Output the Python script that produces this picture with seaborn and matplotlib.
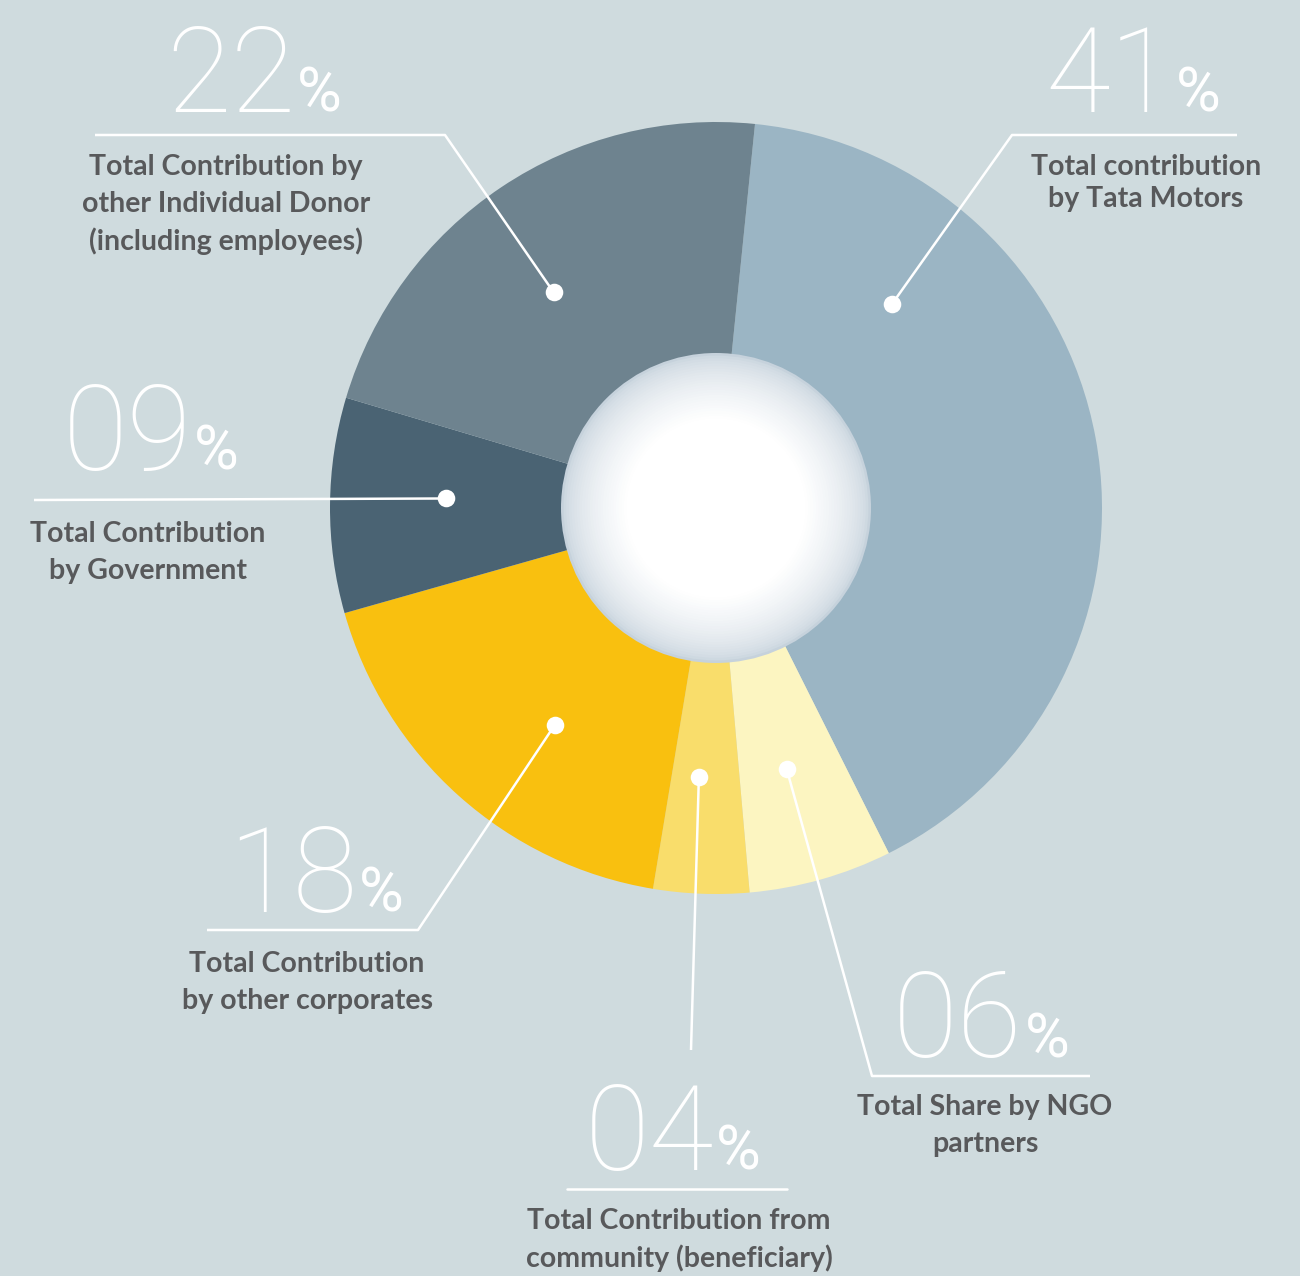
import numpy as np
import matplotlib
matplotlib.use("Agg")
from matplotlib import pyplot as plt
from matplotlib.patches import Circle
import seaborn as sns

# shares, clockwise from the top
categories = ["Tata Motors", "NGO partners", "Community", "Other corporates",
              "Government", "Individual donors"]
shares = [41, 6, 4, 18, 9, 22]
pct_text = ["41", "06", "04", "18", "09", "22"]
labels = ["Total contribution\nby Tata Motors",
          "Total Share by NGO\npartners",
          "Total Contribution from\ncommunity (beneficiary)",
          "Total Contribution\nby other corporates",
          "Total Contribution\nby Government",
          "Total Contribution by\nother Individual Donor\n(including employees)"]
colors = ["#9bb5c4", "#fcf5c1", "#f9dd6b", "#f9c00f", "#4a6373", "#6e838f"]

W, H = 1300, 1276
BG = "#cfdbde"
TXT = "#58595b"

sns.set_theme(style="white")
plt.rcParams['font.family'] = ['Lato', 'DejaVu Sans']

fig = plt.figure(figsize=(W / 100, H / 100), dpi=100, facecolor=BG)
ax = fig.add_axes([0, 0, 1, 1])
ax.set_facecolor(BG)


def Y(y):
    return H - y


cx, cy, R = 716, Y(508), 386
wedges, _ = ax.pie(shares, colors=colors, startangle=84.2, counterclock=False,
                   radius=R, center=(cx, cy), wedgeprops=dict(linewidth=0))
ax.set_xlim(0, W)
ax.set_ylim(0, H)
ax.set_aspect("auto")
ax.axis("off")

# white hole with soft bluish rim
rin = 155
edge = np.array(matplotlib.colors.to_rgb("#c6d2dc"))
for r in np.linspace(rin, 1, 60):
    t = min(1.0, (rin - r) / 65.0) ** 0.6
    ax.add_patch(Circle((cx, cy), r, color=edge + (1 - edge) * t, lw=0, zorder=3))

# label layout: where along the wedge the dot sits, leader path after the dot,
# number baseline position, label centre + first line y, line spacing
layout = [
    dict(frac=0.763, path=[(1012, 135), (1237, 135)], num=(1045, 112), lab=(1146, 167), sp=32),
    dict(frac=0.47, path=[(872, 1076), (1090, 1076)], num=(893, 1057), lab=(985, 1107), sp=37),
    dict(frac=0.40, path=[(691, 1050)], rule=[(567, 1189), (787, 1189)],
         num=(585, 1170), lab=(679, 1221), sp=37),
    dict(frac=0.58, path=[(418, 930), (207, 930)], num=(228, 912), lab=(307, 964), sp=37),
    dict(frac=0.45, path=[(34, 500)], num=(63, 470), lab=(148, 534), sp=37),
    dict(frac=0.54, path=[(445, 135), (95, 135)], num=(166, 112), lab=(226, 167), sp=37),
]

fig.canvas.draw()
renderer = fig.canvas.get_renderer()
inv = ax.transData.inverted()

for w, lay, num, lab in zip(wedges, layout, pct_text, labels):
    th = np.deg2rad(w.theta1 + (w.theta2 - w.theta1) * lay["frac"])
    rd = 270
    dx, dy = cx + rd * np.cos(th), cy + rd * np.sin(th)
    pts = [(dx, dy)] + [(x, Y(y)) for x, y in lay["path"]]
    xs, ys = zip(*pts)
    ax.plot(xs, ys, color="white", lw=1.8, zorder=5, solid_capstyle="butt")
    ax.scatter([dx], [dy], s=160, color="white", zorder=6, linewidths=0)
    if "rule" in lay:
        (x0, y0), (x1, y1) = lay["rule"]
        ax.plot([x0, x1], [Y(y0), Y(y1)], color="white", lw=1.8, zorder=5)

    nx, ny = lay["num"]
    t = ax.text(nx, Y(ny), num, color="white", fontsize=85, fontweight="light",
                family=["Roboto", "DejaVu Sans"], ha="left", va="baseline", zorder=7)
    bb = t.get_window_extent(renderer)
    px = inv.transform((bb.x1, bb.y0))[0]
    ax.text(px + 2, Y(ny), "%", color="white", fontsize=44, fontweight="normal",
            family=["Roboto", "DejaVu Sans"], ha="left", va="baseline", zorder=7)

    lx, ly = lay["lab"]
    for i, line in enumerate(lab.split("\n")):
        ax.text(lx, Y(ly + i * lay["sp"]), line, color=TXT, fontsize=20.5,
                fontweight="bold", ha="center", va="center", zorder=7)

fig.savefig("out.png", dpi=100, facecolor=BG)
